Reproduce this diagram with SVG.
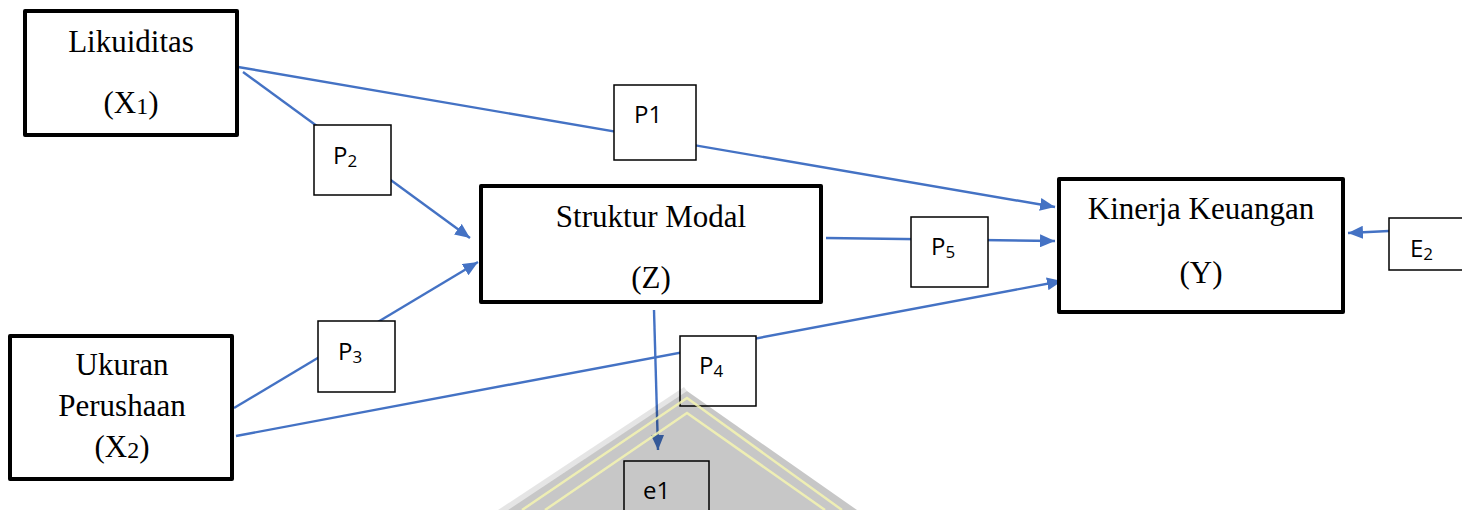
<svg xmlns="http://www.w3.org/2000/svg" width="1462" height="510" viewBox="0 0 1462 510">
  <style>
    .main { fill: #ffffff; stroke: #000000; stroke-width: 4; stroke-linejoin: round; }
    .coef { fill: #ffffff; stroke: #000000; stroke-width: 1.5; }
    .serif { font-family: "Liberation Serif", "Times New Roman", serif; font-size: 31px; fill: #000000; }
    .sans { font-family: "Open Sans", "Liberation Sans", sans-serif; font-size: 24px; fill: #000000; }
    .sub { font-size: 17px; }
    .link { stroke: #4472c4; stroke-width: 2.4; fill: none; }
  </style>
  <defs>
    <marker id="arrow" markerUnits="userSpaceOnUse" markerWidth="15" markerHeight="13" refX="15" refY="6.5" orient="auto">
      <path d="M0,0 L15,6.5 L0,13 z" fill="#4472c4"/>
    </marker>
  </defs>

  <rect x="0" y="0" width="1462" height="510" fill="#ffffff"/>

  <!-- connectors -->
  <g id="connectors">
    <line class="link" x1="238" y1="67" x2="1055" y2="207" marker-end="url(#arrow)"/>
    <line class="link" x1="243" y1="72" x2="470" y2="238" marker-end="url(#arrow)"/>
    <line class="link" x1="234" y1="408" x2="478" y2="262" marker-end="url(#arrow)"/>
    <line class="link" x1="236" y1="436" x2="1062" y2="281" marker-end="url(#arrow)"/>
    <line class="link" x1="826" y1="238" x2="1055" y2="241" marker-end="url(#arrow)"/>
    <line class="link" x1="1389" y1="231" x2="1348" y2="233" marker-end="url(#arrow)"/>
    <line class="link" x1="654" y1="310" x2="658" y2="450" marker-end="url(#arrow)"/>
  </g>

  <!-- variables -->
  <g id="likuiditas">
    <rect class="main" x="25" y="11" width="212" height="124"/>
    <text class="serif" x="131" y="52" text-anchor="middle">Likuiditas</text>
    <text class="serif" x="131" y="113" text-anchor="middle">(X<tspan font-size="24" dy="1">1</tspan><tspan dy="-1">)</tspan></text>
  </g>
  <g id="ukuran">
    <rect class="main" x="10" y="336" width="222" height="143"/>
    <text class="serif" x="122" y="375" text-anchor="middle">Ukuran</text>
    <text class="serif" x="122" y="416" text-anchor="middle">Perushaan</text>
    <text class="serif" x="122" y="457" text-anchor="middle">(X<tspan font-size="24" dy="1">2</tspan><tspan dy="-1">)</tspan></text>
  </g>
  <g id="struktur">
    <rect class="main" x="481" y="186" width="340" height="116"/>
    <text class="serif" x="651" y="227" text-anchor="middle">Struktur Modal</text>
    <text class="serif" x="651" y="288" text-anchor="middle">(Z)</text>
  </g>
  <g id="kinerja">
    <rect class="main" x="1059" y="179" width="284" height="133"/>
    <text class="serif" x="1201" y="219" text-anchor="middle">Kinerja Keuangan</text>
    <text class="serif" x="1201" y="283" text-anchor="middle">(Y)</text>
  </g>

  <!-- path coefficients and errors -->
  <g id="p1">
    <rect class="coef" x="614" y="85" width="82" height="75"/>
    <text class="sans" x="634" y="123">P1</text>
  </g>
  <g id="p2">
    <rect class="coef" x="314" y="125" width="77" height="70"/>
    <text class="sans" x="333" y="164">P<tspan class="sub" dy="3">2</tspan></text>
  </g>
  <g id="p3">
    <rect class="coef" x="318" y="321" width="77" height="71"/>
    <text class="sans" x="338" y="360">P<tspan class="sub" dy="3">3</tspan></text>
  </g>
  <g id="p4">
    <rect class="coef" x="680" y="336" width="76" height="70"/>
    <text class="sans" x="699" y="374">P<tspan class="sub" dy="3">4</tspan></text>
  </g>
  <g id="p5">
    <rect class="coef" x="911" y="217" width="77" height="70"/>
    <text class="sans" x="931" y="255">P<tspan class="sub" dy="3">5</tspan></text>
  </g>
  <g id="e2">
    <rect class="coef" x="1389" y="218" width="80" height="52"/>
    <text class="sans" x="1410" y="257">E<tspan class="sub" dy="3">2</tspan></text>
  </g>
  <g id="e1">
    <rect class="coef" x="624" y="461" width="85" height="60"/>
    <text class="sans" x="643" y="499">e1</text>
  </g>

  <!-- roof emblem laid over the lower centre -->
  <g id="emblem">
    <polygon points="684,387 498,510 508,510 687,391" fill="#000000" fill-opacity="0.1"/>
    <polygon points="687,391 508,510 857,510" fill="#000000" fill-opacity="0.22"/>
    <polyline points="522,510 687,398 842,510" fill="none" stroke="#f4f4b0" stroke-opacity="0.85" stroke-width="2.5"/>
    <polyline points="545,510 687,413 825,510" fill="none" stroke="#f4f4b0" stroke-opacity="0.85" stroke-width="2.5"/>
  </g>
</svg>
